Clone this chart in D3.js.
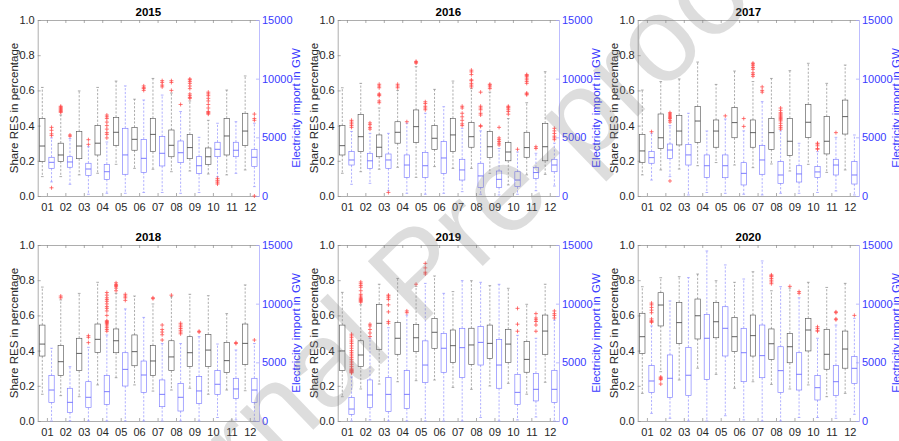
<!DOCTYPE html>
<html>
<head>
<meta charset="utf-8">
<script src="https://cdn.jsdelivr.net/npm/d3@7"></script>
<style>
    body { margin: 0; background: #fff; }
    svg { display: block; }
    text { font-family: "Liberation Sans", Arial, sans-serif; }
</style>
</head>
<body>
<svg id="chart" width="899" height="441"></svg>
<script>
const years = ["2015", "2016", "2017", "2018", "2019", "2020"];
const months = ["01", "02", "03", "04", "05", "06", "07", "08", "09", "10", "11", "12"];
const resTicks = [0, 0.2, 0.4, 0.6, 0.8, 1.0];
const impTicks = [0, 5000, 10000, 15000];

// share RES per month: [lower whisker, q1, median, q3, upper whisker]
const res2015 = [[0.11,0.197,0.284,0.441,0.617],[0.11,0.197,0.233,0.30,0.46],[0.12,0.212,0.284,0.366,0.597],[0.129,0.233,0.30,0.40,0.617],[0.18,0.288,0.362,0.447,0.653],[0.157,0.26,0.322,0.39,0.55],[0.152,0.252,0.35,0.441,0.668],[0.138,0.223,0.288,0.375,0.585],[0.142,0.212,0.275,0.35,0.54],[0.125,0.18,0.223,0.273,0.43],[0.12,0.233,0.341,0.441,0.602],[0.148,0.286,0.369,0.47,0.682]];
const res2016 = [[0.129,0.233,0.286,0.40,0.615],[0.138,0.252,0.337,0.464,0.64],[0.152,0.223,0.277,0.347,0.50],[0.163,0.30,0.362,0.422,0.60],[0.106,0.305,0.394,0.489,0.735],[0.167,0.265,0.328,0.40,0.606],[0.157,0.252,0.347,0.441,0.653],[0.157,0.277,0.337,0.417,0.61],[0.129,0.218,0.28,0.366,0.59],[0.063,0.20,0.25,0.303,0.44],[0.12,0.22,0.275,0.362,0.53],[0.123,0.20,0.28,0.413,0.706]];
const res2017 = [[0.12,0.19,0.256,0.35,0.602],[0.148,0.269,0.331,0.466,0.65],[0.153,0.29,0.369,0.458,0.665],[0.172,0.305,0.426,0.508,0.761],[0.19,0.277,0.369,0.432,0.634],[0.176,0.331,0.417,0.502,0.71],[0.161,0.277,0.36,0.432,0.65],[0.182,0.265,0.36,0.441,0.668],[0.142,0.231,0.311,0.441,0.712],[0.18,0.333,0.419,0.521,0.754],[0.134,0.239,0.311,0.451,0.64],[0.148,0.352,0.451,0.545,0.744]];
const res2018 = [[0.152,0.369,0.437,0.545,0.761],[0.144,0.258,0.337,0.428,0.688],[0.138,0.286,0.384,0.47,0.725],[0.205,0.39,0.464,0.551,0.788],[0.246,0.388,0.456,0.523,0.725],[0.205,0.314,0.394,0.489,0.71],[0.17,0.258,0.341,0.428,0.665],[0.176,0.286,0.364,0.456,0.706],[0.186,0.309,0.388,0.479,0.72],[0.152,0.309,0.403,0.492,0.712],[0.176,0.275,0.343,0.447,0.61],[0.172,0.322,0.441,0.551,0.773]];
const res2019 = [[0.138,0.286,0.398,0.545,0.731],[0.182,0.309,0.375,0.456,0.66],[0.21,0.407,0.555,0.663,0.777],[0.223,0.379,0.47,0.559,0.81],[0.229,0.394,0.473,0.549,0.765],[0.233,0.413,0.504,0.583,0.824],[0.191,0.333,0.428,0.517,0.735],[0.18,0.322,0.432,0.527,0.797],[0.199,0.356,0.441,0.545,0.769],[0.214,0.333,0.437,0.521,0.754],[0.152,0.277,0.35,0.451,0.663],[0.22,0.379,0.511,0.602,0.777]];
const res2020 = [[0.157,0.384,0.479,0.612,0.763],[0.28,0.54,0.659,0.729,0.814],[0.233,0.441,0.559,0.674,0.82],[0.30,0.466,0.598,0.693,0.835],[0.265,0.473,0.564,0.674,0.797],[0.186,0.394,0.479,0.589,0.788],[0.223,0.369,0.485,0.602,0.848],[0.208,0.35,0.439,0.523,0.74],[0.182,0.331,0.422,0.498,0.755],[0.205,0.398,0.517,0.583,0.788],[0.138,0.294,0.379,0.521,0.759],[0.157,0.30,0.409,0.511,0.782]];

// share RES outliers per month
const resOut2015 = [[],[0.51,0.505,0.50,0.495,0.49,0.485,0.48,0.475],[],[],[],[],[],[0.655,0.645,0.60],[0.665,0.66,0.65,0.64,0.625,0.61,0.58,0.57,0.56,0.555],[0.59,0.58,0.57,0.555,0.54,0.52,0.50,0.48,0.475,0.47,0.465],[],[]];
const resOut2016 = [[],[],[0.635,0.625,0.615,0.58,0.575,0.57,0.54,0.53],[0.635,0.625,0.615],[0.765,0.76,0.755],[],[],[0.715,0.705,0.69,0.66,0.655,0.64,0.63,0.62],[0.635,0.63,0.62,0.61],[0.51,0.505,0.50,0.49,0.48,0.465],[0.69,0.685,0.68,0.67,0.66,0.65,0.64,0.585,0.58,0.575],[]];
const resOut2017 = [[],[],[],[],[],[],[0.755,0.75,0.74,0.73,0.72,0.70,0.69,0.68],[],[],[],[],[]];
const resOut2018 = [[],[0.71,0.70],[],[],[0.785,0.775,0.77,0.765,0.755,0.74],[],[0.70,0.695],[0.715],[],[],[],[]];
const resOut2019 = [[],[0.79,0.78,0.77,0.76,0.74,0.72,0.71,0.70,0.695,0.69,0.685,0.68,0.675],[],[],[0.777],[],[],[],[],[],[],[]];
const resOut2020 = [[],[0.25,0.245,0.24,0.235,0.21],[],[],[],[],[],[0.83,0.825,0.82,0.81,0.80,0.79,0.78],[0.765],[],[],[]];

// electricity import per month: [lower whisker, q1, median, q3, upper whisker]
const imp2015 = [[1200,2360,2870,3300,4950],[1000,2450,2900,3350,4900],[150,1760,2300,2790,4200],[230,1420,2070,2700,4600],[230,1850,3500,5770,9380],[300,2010,3210,4830,8180],[300,2560,3640,5060,8600],[230,2840,3690,4690,7200],[300,1930,2580,3350,5000],[1650,3350,3980,4580,6200],[1930,3350,3900,4580,6330],[800,2500,3300,3980,6200]];
const imp2016 = [[1000,2640,3070,3780,5500],[1080,2360,3000,3640,5340],[450,2360,3070,3580,5340],[230,1590,2640,3500,6200],[150,1590,2580,3720,7050],[230,1930,3240,4630,7610],[370,1360,2220,3130,5770],[150,740,1710,2790,5550],[90,740,1420,2130,4050],[150,800,1360,2070,3750],[450,1500,2000,2420,3640],[850,2070,2640,3130,4500]];
const imp2017 = [[1360,2790,3270,3780,5340],[1650,3210,3920,4430,6000],[90,2640,3500,4400,7050],[300,1590,2580,3500,5540],[230,1560,2580,3500,6560],[150,940,1930,2840,5550],[90,1850,3070,4290,8040],[230,1080,1790,2930,5550],[230,1190,1880,2580,4490],[300,1590,2050,2500,3780],[430,1790,2640,3130,5000],[90,1020,1790,2930,5200]];
const imp2018 = [[0,1590,2640,3870,6200],[0,740,1590,2790,4630],[0,1140,2020,3350,6280],[0,1420,2500,3870,7330],[0,2980,4400,5820,9550],[0,2440,3920,5110,8830],[0,1220,2270,3500,6600],[0,850,2020,3210,6600],[0,1500,2560,3780,7190],[300,2270,3130,4290,6560],[90,1930,2730,3640,6050],[0,1590,2640,3640,6600]];
const imp2019 = [[0,570,1020,2000,3750],[90,1140,2220,3500,7050],[0,800,2270,3720,7950],[0,1080,2270,4290,9030],[0,3270,4770,6830,11730],[0,4150,6200,7470,10880],[0,3720,6250,7900,11960],[300,4770,6700,8040,11820],[0,2790,4770,6960,11650],[90,1420,2440,3980,7300],[340,1710,2700,4060,7050],[0,1590,2700,4320,8600]];
const imp2020 = [[650,2440,3410,4720,8100],[230,2000,3640,5630,10230],[0,2160,3900,6280,12220],[0,3550,7050,9090,14490],[450,5540,7900,9740,13300],[90,3350,5820,7900,12100],[0,3690,5570,8180,13640],[0,2420,4290,6330,11450],[300,2640,3980,5820,10500],[300,1790,2840,3870,7050],[230,2160,3350,4720,8180],[570,3210,4490,5490,8750]];

// electricity import outliers per month
const impOut2015 = [[5850,5600,5300,5150,700],[5200,5100],[4800,4400],[6900,6750,6600,6300,6000,5700,5400,5250,4950],[],[9380,9230,9150,9000],[9830,9680,9450,9300],[7800],[],[1500,1350,1270,1130,1020],[],[6980,6600,6450,0]];
const impOut2016 = [[6450,6300,6150,6000,5850],[6230,6080,5850,5700],[300],[6330],[8030,7880,7650,7500,7350],[],[7650,7500,7050,6750,6450,6150,6000],[8850,7650,7500,7350,7050,6900,6000,5930],[5850,4950,4800,4650,4500,4350],[3980],[4200,4050],[5770,5550,5330,5100,4950,4800]];
const impOut2017 = [[5480],[7100,7000,6900,6800,6700,6600,6450,6300,1280],[],[],[6830],[6600,5930],[9300,9000,8850],[7500,7300,7100,7000,6900,6800,6700,6600,6500,6400,6200,6000,5850,5700],[],[4500,4430,4280,4050,3980],[5400],[]];
const impOut2018 = [[],[],[7270,7130,6680],[10950,10730,10500,10350,10200,9980,9750,9600,9380,9000,8550,8480,8400,8330,8250,8100,7950,7800,7650],[10800,10650,10500,10280],[],[8180,7800,7580,7350,6900],[8330,8180,8030,7880,7730,7580,7430],[7650,7580],[],[6680,6600],[6900]];
const impOut2019 = [[7400,7250,7100,6900,6750,6600,6400,6200,6000,5850,5700,5550,5400,5250,5100,4950,4800,4650,4500,4400,4350,4300,4250,4200,4150,4100],[8250,8100,7800,7500,7200],[10730,10650,10500,10350,9900,9300,8480,8330],[9380,9230],[13430,13050,12680,12530],[],[],[],[],[9600,8250,7650],[9150,8780,8630,8480,8180,7650],[9380,9150,9000,8780]];
const impOut2020 = [[10050,9900,9680,9450,9230,8700,8550,8480,8400],[],[],[],[],[],[],[],[11030,10880],[8030,7880,7730,7650],[9300,9230,8700,8630],[9000]];

const resAll = [res2015, res2016, res2017, res2018, res2019, res2020];
const resOutAll = [resOut2015, resOut2016, resOut2017, resOut2018, resOut2019, resOut2020];
const impAll = [imp2015, imp2016, imp2017, imp2018, imp2019, imp2020];
const impOutAll = [impOut2015, impOut2016, impOut2017, impOut2018, impOut2019, impOut2020];

const svg = d3.select('#chart');
const W = 221.3, H = 176;
const BLUE_TXT = '#3a3aff';

const styleRes = { box: '#5a5a5a', med: '#3a3a3a', whisk: '#8a8a8a' };
const styleImp = { box: '#7c7cff', med: '#5c5cff', whisk: '#9090ff' };

function drawBox(g, x, y, s, outs, pos, st) {
    const cx = x(pos), bw = x(0.58) - x(0);
    const cap = bw * 0.5;
    const b = g.append('g');
    // whiskers
    b.append('line').attr('x1', cx).attr('x2', cx).attr('y1', y(s[3])).attr('y2', y(s[4]))
        .attr('stroke', st.whisk).attr('stroke-width', 0.7).attr('stroke-dasharray', '2.2,1.6');
    b.append('line').attr('x1', cx).attr('x2', cx).attr('y1', y(s[1])).attr('y2', y(s[0]))
        .attr('stroke', st.whisk).attr('stroke-width', 0.7).attr('stroke-dasharray', '2.2,1.6');
    [s[0], s[4]].forEach(v => {
        b.append('line').attr('x1', cx - cap / 2).attr('x2', cx + cap / 2).attr('y1', y(v)).attr('y2', y(v))
            .attr('stroke', st.whisk).attr('stroke-width', 0.7);
    });
    b.append('rect').attr('x', cx - bw / 2).attr('width', bw)
        .attr('y', y(s[3])).attr('height', y(s[1]) - y(s[3]))
        .attr('fill', 'none').attr('stroke', st.box).attr('stroke-width', 0.65);
    b.append('line').attr('x1', cx - bw / 2).attr('x2', cx + bw / 2).attr('y1', y(s[2])).attr('y2', y(s[2]))
        .attr('stroke', st.med).attr('stroke-width', 0.8);
    // outliers as red plus signs
    outs.forEach(v => {
        const py = y(v);
        b.append('path').attr('d', `M${cx - 2},${py}H${cx + 2}M${cx},${py - 2}V${py + 2}`)
            .attr('stroke', '#ff4a4a').attr('stroke-width', 0.75).attr('fill', 'none');
    });
}

years.forEach((year, i) => {
    const col = i % 3, row = Math.floor(i / 3);
    const g = svg.append('g').attr('transform', `translate(${37.7 + col * 300},${20 + row * 225})`);

    const x = d3.scaleLinear().domain([0.5, 24.5]).range([0, W]);
    const yL = d3.scaleLinear().domain([0, 1]).range([H, 0]);
    const yR = d3.scaleLinear().domain([0, 15000]).range([H, 0]);
    const monthPos = months.map((m, k) => 2 * k + 1.5);

    // frame top/bottom
    const xb = g.append('g').attr('transform', `translate(0,${H})`)
        .call(d3.axisBottom(x).tickValues(monthPos).tickFormat((d, k) => months[k])
            .tickSizeInner(-3).tickSizeOuter(0).tickPadding(7));
    const xt = g.append('g')
        .call(d3.axisTop(x).tickValues(monthPos).tickFormat('')
            .tickSizeInner(-3).tickSizeOuter(0));
    [xb, xt].forEach(a => {
        a.select('.domain').attr('stroke', '#8a8a8a').attr('stroke-width', 0.7);
        a.selectAll('.tick line').attr('stroke', '#8a8a8a').attr('stroke-width', 0.7);
    });
    xb.selectAll('text').attr('font-size', 11).attr('fill', '#262626')
        .attr('font-family', '"Liberation Sans", Arial, sans-serif');

    const yl = g.append('g')
        .call(d3.axisLeft(yL).tickValues(resTicks).tickFormat(d3.format('.1f'))
            .tickSizeInner(-3).tickSizeOuter(0).tickPadding(3));
    yl.select('.domain').attr('stroke', '#8a8a8a').attr('stroke-width', 0.7);
    yl.selectAll('.tick line').attr('stroke', '#8a8a8a').attr('stroke-width', 0.7);
    yl.selectAll('text').attr('font-size', 11).attr('fill', '#262626')
        .attr('font-family', '"Liberation Sans", Arial, sans-serif');

    const yr = g.append('g').attr('transform', `translate(${W},0)`)
        .call(d3.axisRight(yR).tickValues(impTicks).tickFormat(d3.format('d'))
            .tickSizeInner(-3).tickSizeOuter(0).tickPadding(3));
    yr.select('.domain').attr('stroke', '#a0a0ff').attr('stroke-width', 0.7);
    yr.selectAll('.tick line').attr('stroke', '#a0a0ff').attr('stroke-width', 0.7);
    yr.selectAll('text').attr('font-size', 11).attr('fill', BLUE_TXT)
        .attr('font-family', '"Liberation Sans", Arial, sans-serif');

    // boxes
    months.forEach((m, k) => {
        drawBox(g, x, yL, resAll[i][k], resOutAll[i][k], 2 * k + 1, styleRes);
        drawBox(g, x, yR, impAll[i][k], impOutAll[i][k], 2 * k + 2, styleImp);
    });

    g.append('text').attr('x', W / 2).attr('y', -7.3).attr('text-anchor', 'middle')
        .attr('dominant-baseline', 'middle').attr('font-size', 11.5).attr('font-weight', 'bold')
        .attr('fill', '#000').text(year);
    g.append('text').attr('transform', `translate(-22.7,${H / 2}) rotate(-90)`)
        .attr('text-anchor', 'middle').attr('dominant-baseline', 'middle')
        .attr('font-size', 11.5).attr('fill', '#262626').text('Share RES in percentage');
    g.append('text').attr('transform', `translate(${W + 38},${H / 2}) rotate(-90)`)
        .attr('text-anchor', 'middle').attr('dominant-baseline', 'middle')
        .attr('font-size', 11.5).attr('fill', BLUE_TXT).text('Electricity import in GW');
});

// watermark
svg.append('text')
    .attr('transform', 'translate(416,272) rotate(-44)')
    .attr('text-anchor', 'middle').attr('dominant-baseline', 'central')
    .attr('font-size', 121).attr('fill', '#808080').attr('fill-opacity', 0.27)
    .text('Journal Pre-proof');
</script>
</body>
</html>
